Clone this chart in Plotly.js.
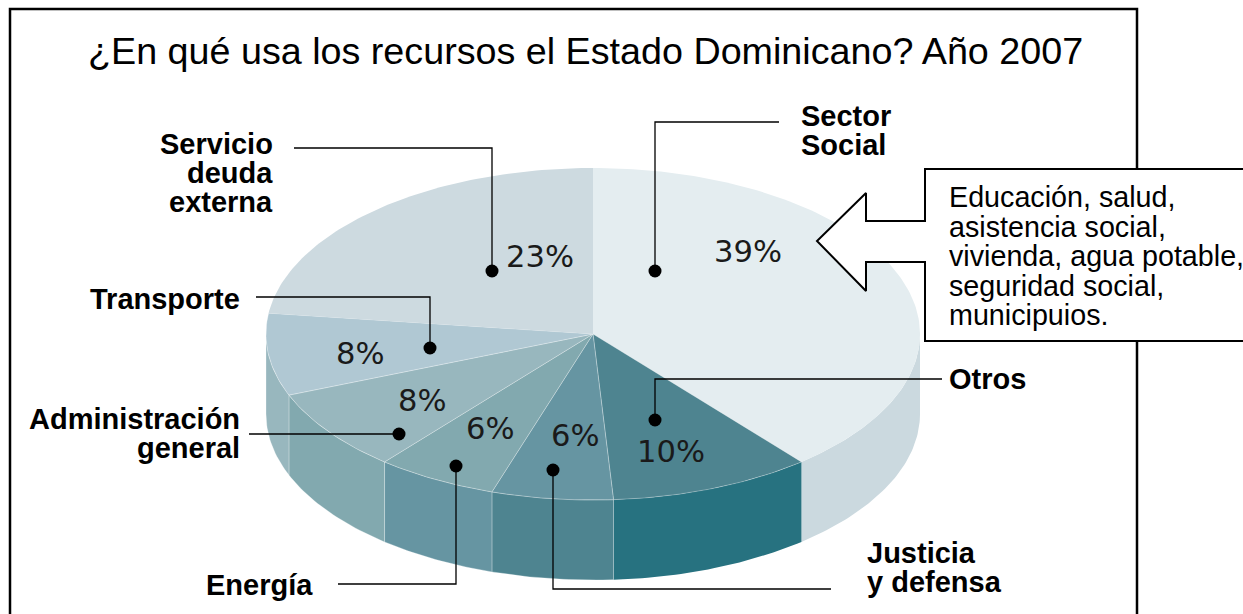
<!DOCTYPE html>
<html>
<head>
<meta charset="utf-8">
<script src="https://cdn.plot.ly/plotly-3.0.1.min.js"></script>
<style>html,body{margin:0;padding:0;background:#fff;overflow:hidden}#chart{width:1243px;height:614px}</style>
</head>
<body>
<div id="chart"></div>
<script>
// ---- data ----
const categories = ['Sector Social','Otros','Justicia y defensa','Energía','Administración general','Transporte','Servicio deuda externa'];
const shares = [39,10,6,6,8,8,23];
const chartTitle = '¿En qué usa los recursos el Estado Dominicano? Año 2007';
const calloutLines = ['Educación, salud,','asistencia social,','vivienda, agua potable,','seguridad social,','municipuios.'];

// ---- styles ----
const topColors  = ['#e4edf0','#4e8490','#6695a2','#82a9af','#98b7be','#b0c8d3','#cddae0'];
const sideColors = ['#cbd9df','#277280','#4e8490','#6695a2','#82a9af','#98b7be','#98b7be'];
const PIE = {cx:593, cy:334, rx:327, ry:166, depth:80};
const seam = 'rgba(255,255,255,0.35)';
const noSeam = 'rgba(255,255,255,0)';
const SANS = '"Liberation Sans", Arial, sans-serif';
const DEJA = '"DejaVu Sans", sans-serif';

// ---- geometry, from the shares ----
const px = a => PIE.cx + PIE.rx * Math.sin(a * Math.PI / 180);
const py = (a, dz) => PIE.cy - PIE.ry * Math.cos(a * Math.PI / 180) + (dz || 0);
function arc(a, b, dz) {
  const n = Math.max(2, Math.ceil(Math.abs(b - a)));
  const xs = [], ys = [];
  for (let i = 0; i <= n; i++) { const t = a + (b - a) * i / n; xs.push(px(t)); ys.push(py(t, dz)); }
  return {xs, ys};
}
const total = shares.reduce((s, v) => s + v, 0);
let acc = 0;
const spans = shares.map(v => { const a = acc / total * 360; acc += v; return [a, acc / total * 360]; });

const poly = (xs, ys, color, name, edge) => ({
  type:'scatter', mode:'lines', x:xs, y:ys, fill:'toself', fillcolor:color,
  line:{color:edge, width:0.8}, hoverinfo:'skip', name:name
});
const traces = [];
// side walls (only the front half of the rim is visible)
spans.forEach(([a, b], i) => {
  const s = Math.max(a, 90), e = Math.min(b, 270);
  if (e <= s) return;
  const t = arc(s, e, 0), u = arc(e, s, PIE.depth);
  traces.push(poly(t.xs.concat(u.xs, [t.xs[0]]), t.ys.concat(u.ys, [t.ys[0]]), sideColors[i], categories[i] + ' lado', i < 2 ? noSeam : seam));
});
// top slices
spans.forEach(([a, b], i) => {
  const t = arc(a, b, 0);
  traces.push(poly([PIE.cx].concat(t.xs, [PIE.cx]), [PIE.cy].concat(t.ys, [PIE.cy]), topColors[i], categories[i], (i === 0 || i === 6) ? noSeam : seam));
});

// ---- callout ----
const callout = {
  x:[1300,925,925,866,866,817,866,866,925,925,1300,1300],
  y:[169,169,221,221,193,241,291,262,262,341,341,169]
};
traces.push({type:'scatter', mode:'lines', x:callout.x, y:callout.y, fill:'toself', fillcolor:'#fff',
  line:{color:'#000', width:2}, hoverinfo:'skip', name:'recuadro'});

// ---- leader lines: dot first, then elbow and end ----
const leaders = [
  {x:[655,655,779], y:[271,122,122]},
  {x:[655,655,942], y:[420,379,379]},
  {x:[553,553,831], y:[470,589,589]},
  {x:[456,456,338], y:[466,584,584]},
  {x:[399,249],     y:[434,434]},
  {x:[430,430,256], y:[348,297,297]},
  {x:[492,492,294], y:[271,148,148]}
];
leaders.forEach((l, i) => traces.push({
  type:'scatter', mode:'lines+markers', x:l.x, y:l.y,
  line:{color:'#000', width:1.3},
  marker:{color:'#000', opacity:1, size:l.x.map((_, k) => k === 0 ? 13 : 0), line:{width:0}},
  hoverinfo:'skip', name:categories[i] + ' guía'
}));

// ---- text ----
const ann = [];
const txt = (text, x, y, anchor, font, size, color) => ann.push({
  text, x, y, xref:'x', yref:'y', xanchor:anchor, yanchor:'middle', showarrow:false,
  font:{family:font, size, color:color || '#000'}, borderpad:0, borderwidth:0
});
txt(chartTitle, 585.5, 51, 'center', SANS, 37.7);

const pctPos = [[748,251],[671,451],[575,435],[490,428],[422,400],[360,353],[540,256]];
shares.forEach((v, i) => txt(v + '%', pctPos[i][0], pctPos[i][1], 'center', DEJA, 30.6, '#1a1a1a'));

const labelPos = [
  [['Sector',801,116,'left'],['Social',801,145,'left']],
  [['Otros',949,379,'left']],
  [['Justicia',867,553,'left'],['y defensa',867,582,'left']],
  [['Energía',313,585,'right']],
  [['Administración',240,419,'right'],['general',240,448,'right']],
  [['Transporte',240,299,'right']],
  [['Servicio',273,144,'right'],['deuda',273,173,'right'],['externa',273,202,'right']]
];
labelPos.forEach(g => g.forEach(l => txt('<b>' + l[0] + '</b>', l[1], l[2], l[3], SANS, 29)));
calloutLines.forEach((t, i) => txt(t, 949, 197 + i * 29.5, 'left', SANS, 28.7));

const layout = {
  width:1243, height:614, margin:{l:0,r:0,t:0,b:0}, showlegend:false,
  paper_bgcolor:'#fff', plot_bgcolor:'#fff',
  xaxis:{range:[0,1243], visible:false, fixedrange:true},
  yaxis:{range:[614,0], visible:false, fixedrange:true},
  shapes:[{type:'rect', xref:'x', yref:'y', x0:10, x1:1137, y0:9, y1:640, layer:'below',
           line:{color:'#000', width:2.5}, fillcolor:'rgba(0,0,0,0)'}],
  annotations:ann
};
Plotly.newPlot('chart', traces, layout, {displayModeBar:false, staticPlot:true});
</script>
</body>
</html>
